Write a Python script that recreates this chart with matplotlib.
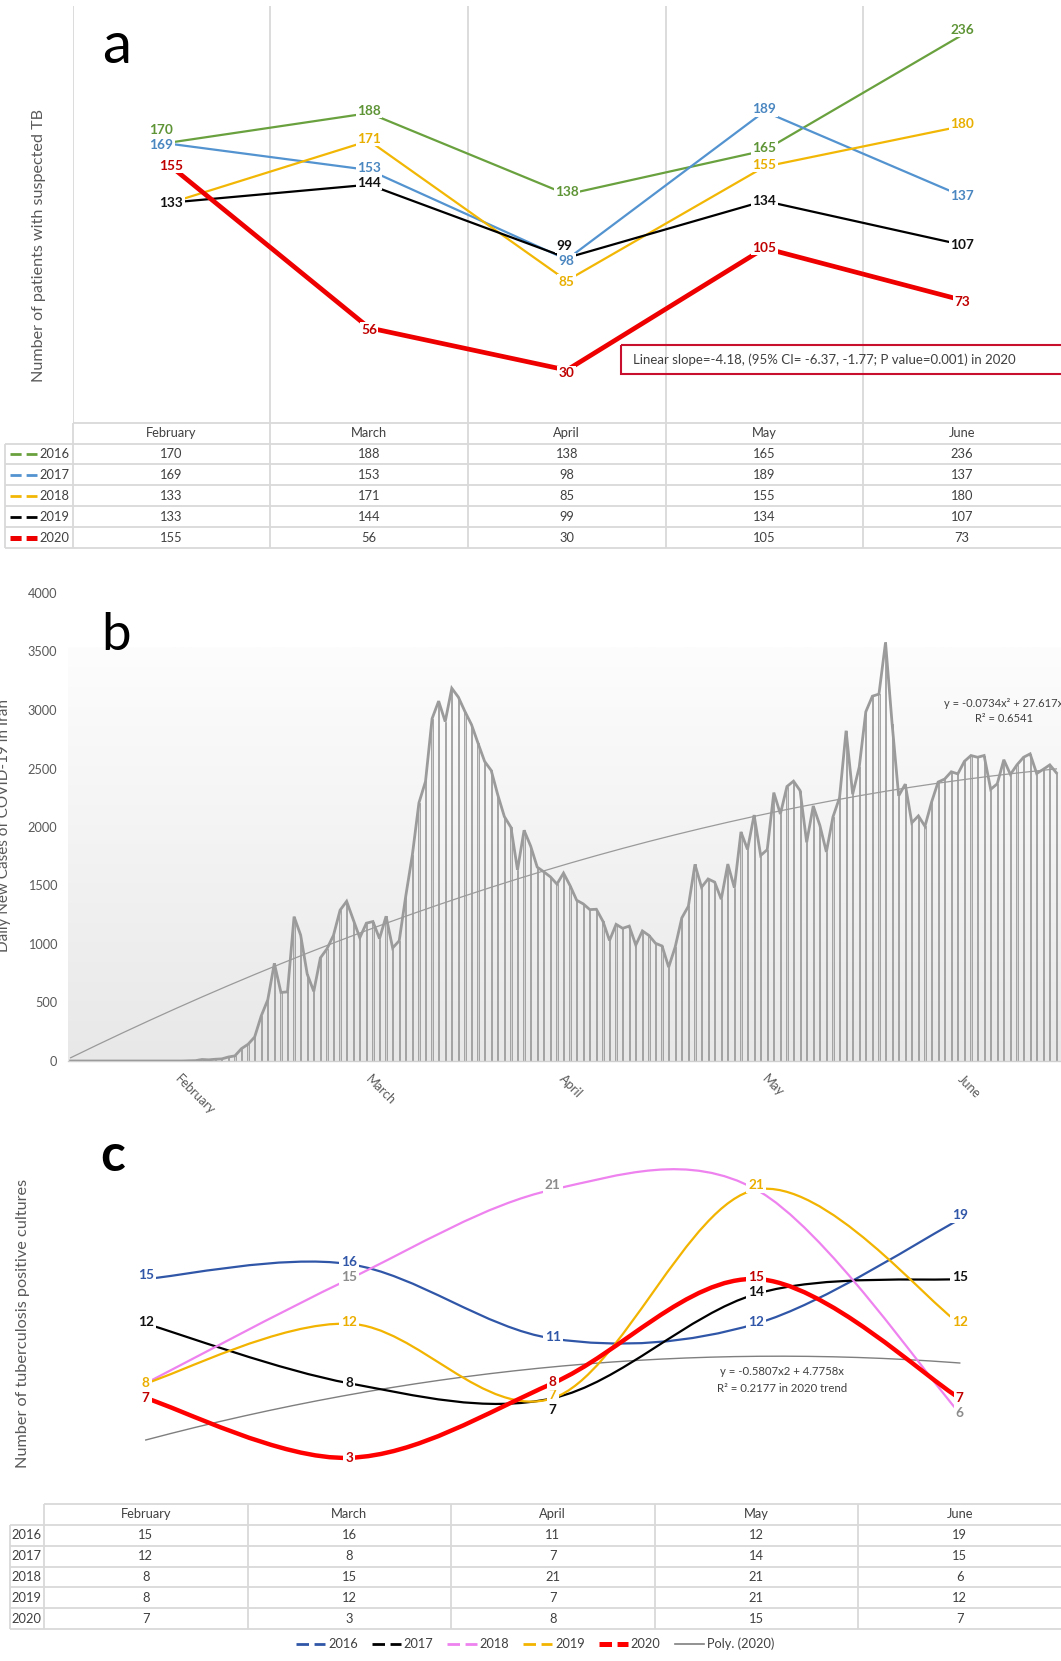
import numpy as np
import matplotlib
matplotlib.use('Agg')
import matplotlib.pyplot as plt
from matplotlib.path import Path
from matplotlib.patches import PathPatch, Rectangle
from matplotlib.lines import Line2D
from matplotlib.transforms import Affine2D
from matplotlib.colors import LinearSegmentedColormap

# ---------------- data ----------------
months = ['February', 'March', 'April', 'May', 'June']
years = ['2016', '2017', '2018', '2019', '2020']

suspected_2016 = [170, 188, 138, 165, 236]
suspected_2017 = [169, 153, 98, 189, 137]
suspected_2018 = [133, 171, 85, 155, 180]
suspected_2019 = [133, 144, 99, 134, 107]
suspected_2020 = [155, 56, 30, 105, 73]

cultures_2016 = [15, 16, 11, 12, 19]
cultures_2017 = [12, 8, 7, 14, 15]
cultures_2018 = [8, 15, 21, 21, 6]
cultures_2019 = [8, 12, 7, 21, 12]
cultures_2020 = [7, 3, 8, 15, 7]

covid_feb = [0, 0, 0, 0, 0, 0, 0, 0, 0, 0, 0, 0, 0, 0, 0, 0, 0, 0,
             2, 3, 13, 10, 15, 18, 34, 44, 106, 143, 205]
covid_mar = [385, 523, 835, 586, 591, 1234, 1076, 743, 595, 881, 958, 1075, 1289,
             1365, 1209, 1053, 1178, 1192, 1046, 1237, 966, 1028, 1411, 1762, 2206,
             2389, 2926, 3076, 2901, 3186, 3110]
covid_apr = [2987, 2875, 2715, 2560, 2483, 2274, 2089, 1997, 1634, 1972, 1837, 1657,
             1617, 1574, 1512, 1606, 1499, 1374, 1343, 1294, 1297, 1194, 1030, 1168,
             1134, 1153, 991, 1112, 1073, 1006]
covid_may = [983, 802, 976, 1223, 1323, 1680, 1485, 1556, 1529, 1383, 1683, 1481,
             1958, 1808, 2102, 1757, 1806, 2294, 2111, 2346, 2392, 2311, 1869, 2180,
             2015, 1787, 2086, 2250, 2823, 2280, 2513]
covid_jun = [2985, 3118, 3136, 3578, 2882, 2266, 2366, 2036, 2095, 2006, 2212, 2384,
             2410, 2472, 2454, 2561, 2611, 2596, 2611, 2322, 2369, 2575, 2449, 2531,
             2596, 2625, 2457, 2493, 2531, 2463]
covid_months = ['February', 'March', 'April', 'May', 'June']

trend_b = (-0.0734, 27.617)     # y = a x^2 + b x
trend_c = (-0.5807, 4.7758)

# ---------------- styles ----------------
W, H = 1061, 1661
plt.rcParams['font.family'] = ['Lato', 'DejaVu Sans']
plt.rcParams['lines.scale_dashes'] = False
TXT = '#404040'
GRID = '#d9d9d9'
LAB_FS = 9.8
TAB_FS = 9.3

fig = plt.figure(figsize=(W / 100, H / 100), dpi=100)
PIX = Affine2D().scale(1 / W, -1 / H).translate(0, 1) + fig.transFigure


def add_axes(l, t, r, b):
    return fig.add_axes([l / W, 1 - b / H, (r - l) / W, (b - t) / H])


def pt(px):
    return px * 0.72


# ================= Panel a =================
a_series = [suspected_2016, suspected_2017, suspected_2018, suspected_2019, suspected_2020]
a_line_col = ['#6AA13F', '#5393CF', '#F2B705', '#000000', '#EE0000']
a_lab_col = ['#5E9436', '#4A86C0', '#E8AE00', '#111111', '#C00000']
a_lw = [1.6, 1.6, 1.6, 1.6, 3.4]
a_skip = {(2, 0)}
a_off = {(0, 0): (-10, -12), (1, 0): (-10, 1), (3, 2): (-2, -12), (0, 4): (0, -5),
         (4, 1): (0, 2), (4, 2): (0, 3), (4, 4): (0, 2), (4, 0): (0, -1),
         (3, 0): (0, 0), (1, 2): (0, 1), (2, 2): (0, 1), (3, 3): (0, 0), (4, 3): (0, 0),
         (1, 4): (0, 0), (3, 4): (0, 0)}

axA = add_axes(72.5, 6, 1061, 422.7)
axA.set_xlim(-0.5, 4.5)
axA.set_ylim(-2.3, 253.8)
axA.axis('off')
for xb in [-0.5, 0.5, 1.5, 2.5, 3.5]:
    axA.axvline(xb, color=GRID, lw=1.3, zorder=0)
xi = np.arange(len(months))
for s, vals in enumerate(a_series):
    axA.plot(xi, vals, color=a_line_col[s], lw=a_lw[s], zorder=2 + s * 0.1,
             solid_capstyle='butt', solid_joinstyle='miter')
for s, vals in enumerate(a_series):
    for i, v in enumerate(vals):
        if (s, i) in a_skip:
            continue
        dx, dy = a_off.get((s, i), (0, -2))
        axA.annotate(str(v), (i, v), xytext=(pt(dx), -pt(dy)), textcoords='offset points',
                     ha='center', va='center', fontsize=LAB_FS, fontweight='bold',
                     color=a_lab_col[s], zorder=6,
                     bbox=dict(boxstyle='square,pad=0.1', fc='white', ec='none'))

# text box
fig.patches.append(Rectangle((621, 345), 470, 29, transform=PIX, fill=False,
                             ec='#C8102E', lw=1.5))
fig.text(632.6, 360, 'Linear slope=-4.18, (95% CI= -6.37, -1.77; P value=0.001) in 2020',
         transform=PIX, ha='left', va='center', fontsize=9.5, color=TXT)

fig.text(116.5, 63, 'a', transform=PIX, ha='center', va='baseline', fontsize=42, color='black')
fig.text(39, 246, 'Number of patients with suspected TB', transform=PIX, rotation=90,
         ha='center', va='center', fontsize=11.6, color='#595959')

# table a
tabA = add_axes(72.5, 422.7, 1061, 548)
tabA.set_xlim(-0.5, 4.5)
tabA.set_ylim(6, 0)
tabA.axis('off')
colw = (1061 - 72.5) / 5.0


def tx(px, left=72.5, cw=colw):
    return -0.5 + (px - left) / cw


xlA = tx(5)
kw = dict(color=GRID, lw=1.3, clip_on=False, solid_capstyle='butt')
tabA.plot([-0.5, 4.6], [0, 0], **kw)
for r in range(1, 7):
    tabA.plot([xlA, 4.6], [r, r], **kw)
for xb in [-0.5, 0.5, 1.5, 2.5, 3.5]:
    tabA.plot([xb, xb], [0, 6], **kw)
tabA.plot([xlA, xlA], [1, 6], **kw)
for i, m in enumerate(months):
    tabA.text(i, 0.5, m, ha='center', va='center', fontsize=TAB_FS, color=TXT)
for s, vals in enumerate(a_series):
    r = s + 1.5
    tabA.add_line(Line2D([tx(10), tx(37)], [r, r], color=a_line_col[s],
                         lw=2.0 if s < 4 else 3.6, dashes=(8, 3.6), clip_on=False))
    tabA.text(tx(39.5), r, years[s], ha='left', va='center', fontsize=TAB_FS, color=TXT,
              clip_on=False)
    for i, v in enumerate(vals):
        tabA.text(i, r, str(v), ha='center', va='center', fontsize=TAB_FS, color=TXT)

# ================= Panel b =================
covid = np.array(covid_feb + covid_mar + covid_apr + covid_may + covid_jun, dtype=float)
days = np.arange(len(covid))
axB = add_axes(68, 593, 1061, 1061)
xlo, xhi = -0.4, 150.7
grad = np.linspace(0, 1, 256).reshape(-1, 1)
cmap = LinearSegmentedColormap.from_list('g', ['#e8e8e8', '#fdfdfd'])
axB.imshow(grad, extent=[xlo, xhi, 0, 3530], aspect='auto', cmap=cmap, origin='lower',
           zorder=0, interpolation='bilinear')
axB.bar(days, covid, width=0.18, color='#d2d2d2', edgecolor='#8c8c8c', lw=0.5, zorder=2)
axB.plot(days, covid, color='#9b9b9b', lw=2.0, zorder=3, solid_joinstyle='miter')
X = days + 1.0
axB.plot(days, trend_b[0] * X ** 2 + trend_b[1] * X, color='#9a9a9a', lw=0.9, zorder=4)
axB.set_xlim(xlo, xhi)
axB.set_ylim(0, 4000)
for sp in ['top', 'right', 'left']:
    axB.spines[sp].set_visible(False)
axB.spines['bottom'].set_color('#cfcfcf')
axB.spines['bottom'].set_linewidth(1.0)
axB.set_yticks(np.arange(0, 4001, 500))
axB.tick_params(axis='y', length=0, pad=pt(10.7), labelsize=9.2, labelcolor='#595959')
b_tick_pos = [16.8, 45.9, 75.3, 106.2, 136.0]
axB.set_xticks(b_tick_pos)
axB.set_xticklabels(covid_months)
axB.tick_params(axis='x', length=0, pad=pt(12), labelsize=9.3, labelcolor='#595959')
plt.setp(axB.get_xticklabels(), rotation=-45, ha='left', va='top', rotation_mode='anchor')

fig.text(1004, 703.3, 'y = -0.0734x² + 27.617x', transform=PIX, ha='center', va='center',
         fontsize=8.0, color=TXT)
fig.text(1004, 718.3, 'R² = 0.6541', transform=PIX, ha='center', va='center',
         fontsize=8.0, color=TXT)
fig.text(116, 650, 'b', transform=PIX, ha='center', va='baseline', fontsize=38, color='black')
fig.text(4, 826, 'Daily New Cases of COVID-19 in Iran', transform=PIX, rotation=90,
         ha='center', va='center', fontsize=11.0, color='#595959')

# ================= Panel c =================
c_series = [cultures_2016, cultures_2017, cultures_2018, cultures_2019, cultures_2020]
c_line_col = ['#3056A8', '#000000', '#EE82EE', '#F2B400', '#FF0000']
c_lab_col = ['#3056A8', '#111111', '#8C8C8C', '#EBAE00', '#C00000']
c_lw = [1.6, 1.6, 1.6, 1.6, 3.2]
c_skip = {(2, 0), (2, 3)}
c_off = {(1, 2): (0, 12), (2, 2): (0, -5), (3, 3): (0, -5), (3, 2): (0, -3),
         (0, 0): (0, -4), (0, 4): (0, -4), (3, 0): (0, 0), (4, 0): (0, 0), (1, 1): (0, 0),
         (4, 1): (0, 0), (4, 4): (0, 0), (2, 4): (0, 0), (4, 2): (0, -1)}

axC = add_axes(44, 1120, 1061.5, 1502.5)
axC.set_xlim(-0.5, 4.5)
axC.set_ylim(0, 25.67)
axC.axis('off')


def smooth_path(xs, ys):
    p = np.column_stack([xs, ys]).astype(float)
    n = len(p)
    verts = [p[0]]
    codes = [Path.MOVETO]
    for i in range(n - 1):
        p0 = p[i - 1] if i > 0 else p[i]
        p1, p2 = p[i], p[i + 1]
        p3 = p[i + 2] if i + 2 < n else p[i + 1]
        verts += [p1 + (p2 - p0) / 6.0, p2 - (p3 - p1) / 6.0, p2]
        codes += [Path.CURVE4] * 3
    return Path(verts, codes)


# poly trend (2020)
xd = np.linspace(0, 4, 200)
Xc = xd + 1
axC.plot(xd, trend_c[0] * Xc ** 2 + trend_c[1] * Xc, color='#7f7f7f', lw=1.0, zorder=1)
for s, vals in enumerate(c_series):
    axC.add_patch(PathPatch(smooth_path(xi, vals), fill=False, ec=c_line_col[s],
                            lw=c_lw[s], zorder=2 + s * 0.1, capstyle='butt'))
for s, vals in enumerate(c_series):
    for i, v in enumerate(vals):
        if (s, i) in c_skip:
            continue
        dx, dy = c_off.get((s, i), (0, -2))
        axC.annotate(str(v), (i, v), xytext=(pt(dx), -pt(dy)), textcoords='offset points',
                     ha='center', va='center', fontsize=LAB_FS, fontweight='bold',
                     color=c_lab_col[s], zorder=6,
                     bbox=dict(boxstyle='square,pad=0.15', fc='white', ec='none'))

fig.text(782, 1371.7, 'y = -0.5807x2 + 4.7758x', transform=PIX, ha='center', va='center',
         fontsize=8.2, color=TXT)
fig.text(782, 1388.3, 'R² = 0.2177 in 2020 trend', transform=PIX, ha='center', va='center',
         fontsize=8.2, color=TXT)
fig.text(113, 1171, 'c', transform=PIX, ha='center', va='baseline', fontsize=37,
         fontweight='bold', color='black')
fig.text(23, 1323, 'Number of tuberculosis positive cultures', transform=PIX, rotation=90,
         ha='center', va='center', fontsize=11.7, color='#595959')

# table c
tabC = add_axes(44, 1504, 1061.5, 1629)
tabC.set_xlim(-0.5, 4.5)
tabC.set_ylim(6, 0)
tabC.axis('off')
colwC = (1061.5 - 44) / 5.0
xlC = tx(10, 44, colwC)
tabC.plot([-0.5, 4.6], [0, 0], **kw)
for r in range(1, 7):
    tabC.plot([xlC, 4.6], [r, r], **kw)
for xb in [-0.5, 0.5, 1.5, 2.5, 3.5]:
    tabC.plot([xb, xb], [0, 6], **kw)
tabC.plot([xlC, xlC], [1, 6], **kw)
for i, m in enumerate(months):
    tabC.text(i, 0.5, m, ha='center', va='center', fontsize=TAB_FS, color=TXT)
for s, vals in enumerate(c_series):
    r = s + 1.5
    tabC.text(tx(26.5, 44, colwC), r, years[s], ha='center', va='center', fontsize=TAB_FS,
              color=TXT, clip_on=False)
    for i, v in enumerate(vals):
        tabC.text(i, r, str(v), ha='center', va='center', fontsize=TAB_FS, color=TXT)

# legend c
handles = [Line2D([], [], color=c_line_col[s], lw=2.0 if s < 4 else 3.6, dashes=(9, 4))
           for s in range(5)]
handles.append(Line2D([], [], color='#7f7f7f', lw=1.2))
fig.legend(handles, years + ['Poly. (2020)'], loc='center',
           bbox_to_anchor=(535 / W, 1 - 1644 / H), ncol=6, frameon=False, fontsize=9.2,
           handlelength=2.3, handletextpad=0.2, columnspacing=1.1, labelcolor=TXT)

fig.savefig('out.png', dpi=100)
